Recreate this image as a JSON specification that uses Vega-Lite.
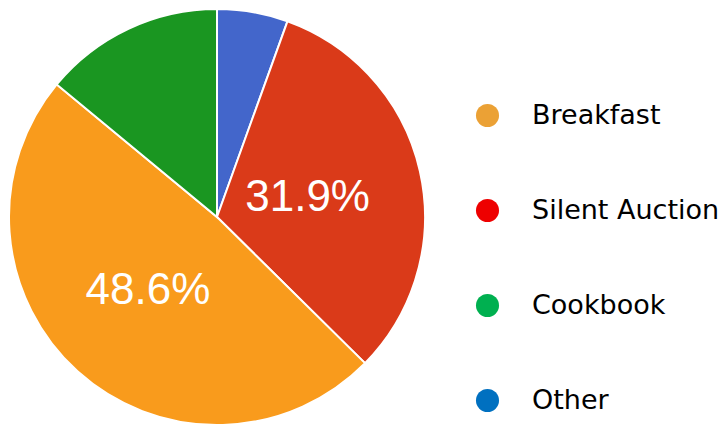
{
  "$schema": "https://vega.github.io/schema/vega-lite/v6.json",
  "autosize": {"type": "none"},
  "width": 434,
  "height": 420,
  "padding": {"top": 7, "left": 0, "right": 291, "bottom": 0},
  "background": "white",
  "config": {"view": {"stroke": null}},
  "data": {
    "values": [
      {"category": "Other", "share": 5.5, "rank": 1, "label": ""},
      {"category": "Silent Auction", "share": 31.9, "rank": 2, "label": "31.9%"},
      {"category": "Breakfast", "share": 48.6, "rank": 3, "label": "48.6%"},
      {"category": "Cookbook", "share": 14.0, "rank": 4, "label": ""}
    ]
  },
  "encoding": {
    "theta": {"field": "share", "type": "quantitative", "stack": true},
    "order": {"field": "rank", "type": "quantitative"}
  },
  "layer": [
    {
      "mark": {"type": "arc", "outerRadius": 195},
      "encoding": {
        "color": {
          "field": "category",
          "type": "nominal",
          "scale": {
            "domain": ["Breakfast", "Silent Auction", "Cookbook", "Other"],
            "range": ["#eba135", "#ee0000", "#00b050", "#0070c0"]
          },
          "legend": {
            "title": null,
            "orient": "none",
            "legendX": 474,
            "legendY": 95,
            "padding": 0,
            "symbolType": "circle",
            "symbolSize": 531,
            "symbolStrokeWidth": 0,
            "labelFont": "DejaVu Sans",
            "labelFontSize": 27,
            "labelColor": "#000000",
            "labelOffset": 31,
            "rowPadding": 67,
            "labelLimit": 300
          }
        }
      }
    },
    {
      "mark": {"type": "arc", "outerRadius": 208, "stroke": "white", "strokeWidth": 2},
      "encoding": {
        "fill": {
          "field": "category",
          "type": "nominal",
          "scale": {
            "domain": ["Breakfast", "Silent Auction", "Cookbook", "Other"],
            "range": ["#f99b1c", "#da3a19", "#1a9621", "#4366cb"]
          },
          "legend": null
        }
      }
    },
    {
      "mark": {"type": "text", "radius": 97, "dx": -4, "dy": 2, "font": "Liberation Sans", "fontSize": 44, "fill": "white", "align": "center", "baseline": "middle"},
      "encoding": {
        "detail": {"field": "category", "type": "nominal"},
        "text": {"field": "label", "type": "nominal"}
      }
    }
  ]
}
